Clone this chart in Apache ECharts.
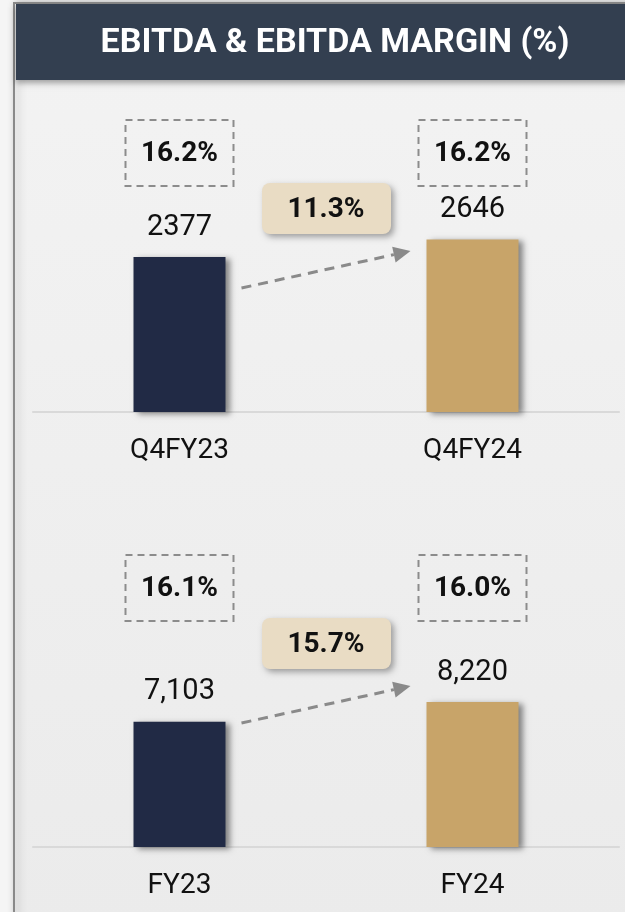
<!DOCTYPE html>
<html>
<head>
<meta charset="utf-8">
<script src="https://cdn.jsdelivr.net/npm/echarts@6/dist/echarts.min.js"></script>
<style>
  html, body { margin: 0; padding: 0; background: #f5f5f5; }
  #chart { width: 625px; height: 912px; }
</style>
</head>
<body>
<div id="chart"></div>
<script>
// quarter panel
const periodsQ = ['Q4FY23', 'Q4FY24'];
const ebitdaQ = [2377, 2646];
const marginQ = [16.2, 16.2];
const growthQ = 11.3;

// full year panel
const periodsY = ['FY23', 'FY24'];
const ebitdaY = [7103, 8220];
const marginY = [16.1, 16.0];
const growthY = 15.7;

const barColors = ['#212a45', '#c8a469'];
const fontFam = 'Roboto, "Liberation Sans", sans-serif';

const chart = echarts.init(document.getElementById('chart'));

function barSeries(idx, values, fmt) {
  return {
    type: 'bar',
    xAxisIndex: idx,
    yAxisIndex: idx,
    barWidth: 92,
    data: values.map((v, i) => ({
      value: v,
      itemStyle: { color: barColors[i] }
    })),
    itemStyle: {
      shadowColor: 'rgba(0,0,0,0.45)',
      shadowBlur: 6,
      shadowOffsetX: 4,
      shadowOffsetY: 2
    },
    label: {
      show: true,
      position: 'top',
      distance: 15,
      fontSize: 29,
      fontFamily: fontFam,
      color: '#111',
      formatter: (p) => fmt(p.value)
    },
    emphasis: { disabled: true }
  };
}

// dashed margin boxes above each bar
function marginSeries(idx, margins) {
  return {
    type: 'custom',
    xAxisIndex: idx,
    yAxisIndex: idx,
    clip: false,
    silent: true,
    data: margins.map((m, i) => [i, m]),
    renderItem: function (params, api) {
      const i = params.dataIndex;
      const base = api.coord([i, 0]);
      const cy = base[1] - 259;
      return {
        type: 'group',
        children: [
          {
            type: 'rect',
            shape: { x: base[0] - 54, y: cy - 33, width: 108, height: 66 },
            style: { fill: 'none', stroke: '#8c8c8c', lineWidth: 2, lineDash: [7, 5] }
          },
          {
            type: 'text',
            style: {
              text: margins[i].toFixed(1) + '%',
              x: base[0], y: cy + 1,
              align: 'center', verticalAlign: 'middle',
              font: 'bold 28px ' + fontFam,
              fill: '#111'
            }
          }
        ]
      };
    }
  };
}

// growth badge + dashed arrow between the two bars
function growthSeries(idx, growth) {
  return {
    type: 'custom',
    xAxisIndex: idx,
    yAxisIndex: idx,
    clip: false,
    silent: true,
    z: 5,
    data: [[0, growth]],
    renderItem: function (params, api) {
      const p0 = api.coord([0, 0]);
      const p1 = api.coord([1, 0]);
      const mx = (p0[0] + p1[0]) / 2;
      const by = p0[1] - 204;
      const x1 = p0[0] + 62, y1 = p0[1] - 124;
      const x2 = p1[0] - 62, y2 = p0[1] - 161;
      const ang = Math.atan2(y2 - y1, x2 - x1);
      const hl = 17, hw = 8;
      const lx = x2 - hl * Math.cos(ang), ly = y2 - hl * Math.sin(ang);
      const nx = -Math.sin(ang) * hw, ny = Math.cos(ang) * hw;
      return {
        type: 'group',
        children: [
          {
            type: 'line',
            shape: { x1: x1, y1: y1, x2: lx, y2: ly },
            style: { stroke: '#8a8a8a', lineWidth: 3, lineDash: [10, 7] }
          },
          {
            type: 'polygon',
            shape: { points: [[x2, y2], [lx + nx, ly + ny], [lx - nx, ly - ny]] },
            style: { fill: '#8a8a8a' }
          },
          {
            type: 'rect',
            shape: { x: mx - 64, y: by - 25, width: 129, height: 51, r: 8 },
            style: {
              fill: '#e9dcc4',
              shadowColor: 'rgba(0,0,0,0.35)',
              shadowBlur: 6,
              shadowOffsetX: 3,
              shadowOffsetY: 3
            }
          },
          {
            type: 'text',
            style: {
              text: growth.toFixed(1) + '%',
              x: mx, y: by + 2,
              align: 'center', verticalAlign: 'middle',
              font: 'bold 28px ' + fontFam,
              fill: '#111'
            }
          }
        ]
      };
    }
  };
}

const xAxisBase = {
  type: 'category',
  axisTick: { show: false },
  axisLine: { lineStyle: { color: '#d9d9d9', width: 2 } },
  axisLabel: { fontSize: 28, color: '#111', margin: 25, fontFamily: fontFam }
};
const yAxisBase = {
  type: 'value',
  min: 0,
  show: false,
  splitLine: { show: false }
};

const option = {
  animation: false,
  backgroundColor: '#f5f5f5',
  graphic: [
    {
      type: 'rect',
      z: -10,
      shape: { x: 14, y: 3, width: 620, height: 920 },
      style: {
        fill: new echarts.graphic.LinearGradient(0, 0, 0, 1, [
          { offset: 0, color: '#f3f3f3' },
          { offset: 1, color: '#ebebeb' }
        ]),
        stroke: '#8a8a8a',
        lineWidth: 2,
        shadowColor: 'rgba(0,0,0,0.25)',
        shadowBlur: 8,
        shadowOffsetX: 3
      }
    },
    {
      type: 'rect',
      z: -5,
      shape: { x: 16, y: 4, width: 612, height: 76 },
      style: {
        fill: '#333f50',
        shadowColor: 'rgba(0,0,0,0.35)',
        shadowBlur: 6,
        shadowOffsetY: 3
      }
    },
    {
      type: 'text',
      style: {
        text: 'EBITDA & EBITDA MARGIN (%)',
        x: 335,
        y: 43,
        align: 'center',
        verticalAlign: 'middle',
        font: 'bold 34px ' + fontFam,
        fill: '#ffffff'
      }
    }
  ],
  grid: [
    { left: 33, width: 586, top: 112, height: 300 },
    { left: 33, width: 586, top: 547, height: 300 }
  ],
  xAxis: [
    Object.assign({ gridIndex: 0, data: periodsQ }, xAxisBase),
    Object.assign({ gridIndex: 1, data: periodsY }, xAxisBase)
  ],
  yAxis: [
    Object.assign({ gridIndex: 0, max: 4600 }, yAxisBase),
    Object.assign({ gridIndex: 1, max: 17000 }, yAxisBase)
  ],
  series: [
    barSeries(0, ebitdaQ, (v) => String(v)),
    barSeries(1, ebitdaY, (v) => v.toLocaleString('en-US')),
    marginSeries(0, marginQ),
    marginSeries(1, marginY),
    growthSeries(0, growthQ),
    growthSeries(1, growthY)
  ]
};

chart.setOption(option);
</script>
</body>
</html>
